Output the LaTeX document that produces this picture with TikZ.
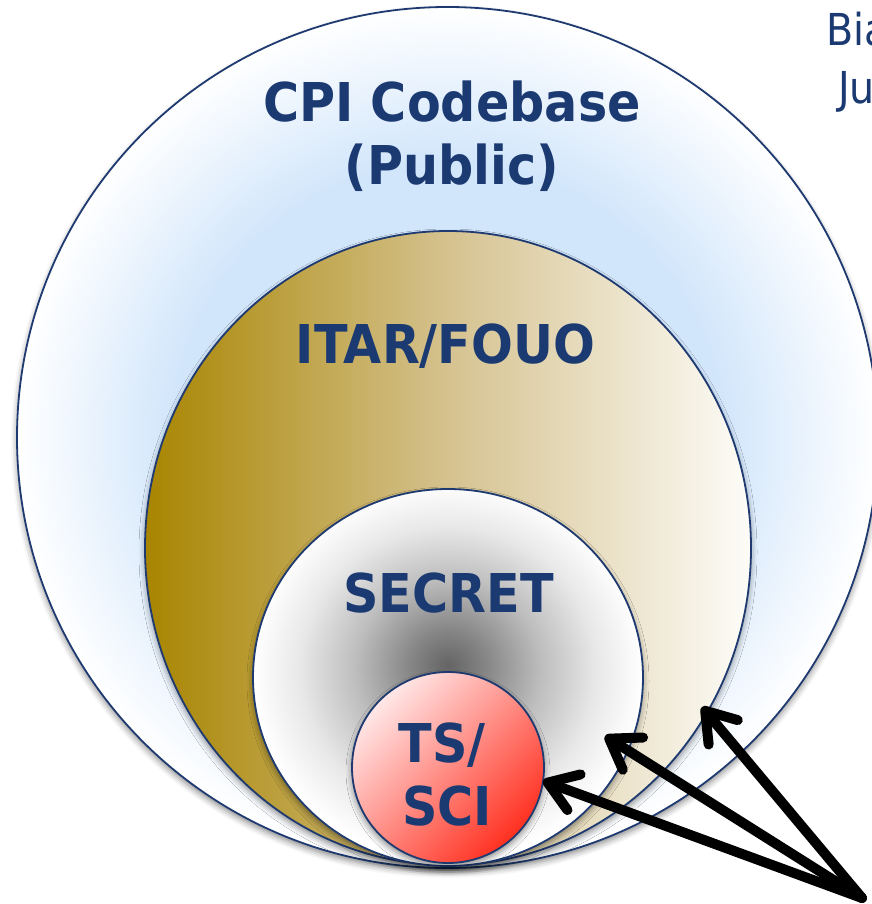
\documentclass[tikz,border=0pt]{standalone}
\usepackage{fontspec}
\setmainfont{DejaVu Sans}
\newfontfamily\lblfont{DejaVu Sans}[FakeStretch=0.92]
\newfontfamily\sidefont{DejaVu Sans}[FakeStretch=0.9]
\usetikzlibrary{shapes.geometric,arrows.meta,shadows.blur}
\definecolor{navy}{RGB}{28,58,114}
\definecolor{rim}{RGB}{30,58,112}
\definecolor{skyb}{RGB}{210,230,251}
\definecolor{goldA}{RGB}{168,133,0}
\definecolor{goldM}{RGB}{213,194,143}
\definecolor{goldR}{RGB}{253,252,248}
\definecolor{pinkA}{RGB}{255,232,232}
\definecolor{redA}{RGB}{255,48,32}
\definecolor{gA}{RGB}{100,100,100}
\definecolor{gB}{RGB}{135,135,135}
\definecolor{gC}{RGB}{190,190,190}
\definecolor{gD}{RGB}{232,232,232}
\pgfdeclareradialshading{outerglow}{\pgfpoint{0bp}{0bp}}{color(0bp)=(skyb); color(16bp)=(skyb); color(25bp)=(white); color(50bp)=(white)}
\pgfdeclareradialshading{secretglow}{\pgfpoint{0bp}{1.6bp}}{color(0bp)=(gA); color(5bp)=(gB); color(12bp)=(gC); color(19bp)=(gD); color(25bp)=(white); color(50bp)=(white)}
\tikzset{
  ring/.style={ellipse, draw=rim, line width=1.8pt, inner sep=0pt, outer sep=0pt},
  lbl/.style={text=navy, font=\lblfont\bfseries\fontsize{53.5}{60}\selectfont, anchor=base, inner sep=0pt},
  side/.style={text=navy, font=\sidefont\fontsize{44}{50}\selectfont, anchor=base west, inner sep=0pt},
  arr/.style={line width=10pt, line cap=round, -{Straight Barb[length=28pt, width=38pt, round]}},
  soft/.style={blur shadow={shadow xshift=0pt, shadow yshift=-4pt, shadow blur radius=6pt, shadow opacity=45}}
}
\begin{document}
\begin{tikzpicture}[x=1pt,y=-1pt]
\useasboundingbox (0,0) rectangle (871,904);
\node[ring, soft, shading=outerglow, minimum width=861pt, minimum height=861pt] (outer) at (447.5,437.5) {};
\node[ring, soft, left color=goldA, right color=goldR, middle color=goldM, minimum width=606pt, minimum height=634pt] (itar) at (448,548) {};
\node[ring, soft, shading=secretglow, minimum width=390pt, minimum height=377pt] (secret) at (448,677.5) {};
\node[ring, soft, top color=pinkA, bottom color=redA, shading angle=45, minimum width=192pt, minimum height=191pt] (tssci) at (448,767.5) {};
\node[lbl] (cpi) at (452,122) {CPI Codebase};
\node[lbl] (pub) at (452,185) {(Public)};
\node[lbl] (itarl) at (445.5,363) {ITAR/FOUO};
\node[lbl] (secl) at (448.5,612) {SECRET};
\node[lbl] (tsl) at (442,762) {TS/};
\node[lbl] (scil) at (447,825) {SCI};
\node[side] (bia) at (826,46) {Bia};
\node[side] (ju) at (838,104) {Ju};
\coordinate (src) at (862,898);
\coordinate (tipsec) at (605,736);
\coordinate (tipitar) at (702,707);
\draw[arr] (src) -- (tssci.-8);
\draw[arr] (src) -- (tipsec);
\draw[arr] (src) -- (tipitar);
\end{tikzpicture}
\end{document}
